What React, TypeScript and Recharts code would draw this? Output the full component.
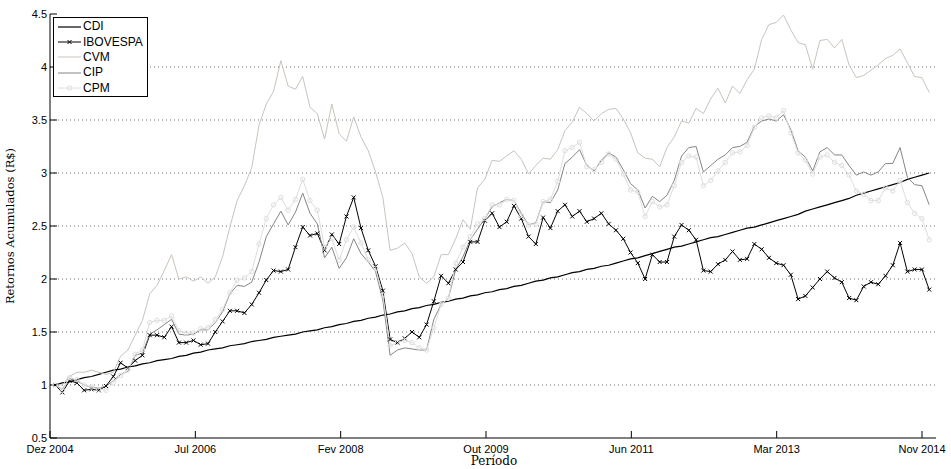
import React from "react";
import { CartesianGrid, Legend, Line, LineChart, XAxis, YAxis } from "recharts";

// retornos acumulados mensais, dez/2004 a dez/2014 (121 meses)
const CDI = [
  1.0, 1.02, 1.03, 1.05, 1.07, 1.08, 1.1, 1.12, 1.14, 1.15,
  1.17, 1.18, 1.2, 1.21, 1.23, 1.24, 1.25, 1.27, 1.28, 1.3,
  1.31, 1.33, 1.34, 1.35, 1.37, 1.38, 1.39, 1.41, 1.42, 1.43,
  1.45, 1.46, 1.47, 1.48, 1.5, 1.51, 1.52, 1.54, 1.55, 1.57,
  1.58, 1.6, 1.61, 1.63, 1.64, 1.66, 1.67, 1.69, 1.7, 1.72,
  1.73, 1.75, 1.76, 1.78, 1.79, 1.81, 1.82, 1.84, 1.85, 1.87,
  1.88, 1.9, 1.91, 1.93, 1.94, 1.96, 1.98, 1.99, 2.01, 2.02,
  2.04, 2.06, 2.07, 2.09, 2.1, 2.12, 2.13, 2.15, 2.17, 2.19,
  2.2, 2.22, 2.24, 2.26, 2.28, 2.3, 2.31, 2.33, 2.35, 2.37,
  2.39, 2.4, 2.42, 2.44, 2.46, 2.48, 2.49, 2.51, 2.53, 2.55,
  2.57, 2.59, 2.61, 2.64, 2.66, 2.68, 2.7, 2.72, 2.74, 2.76,
  2.79, 2.81, 2.83, 2.85, 2.87, 2.89, 2.91, 2.94, 2.96, 2.98,
  3.0,
];

const IBOVESPA = [
  1.0, 0.93, 1.04, 1.02, 0.95, 0.96, 0.95, 0.99, 1.08, 1.21,
  1.16, 1.23, 1.28, 1.47, 1.47, 1.45, 1.55, 1.4, 1.4, 1.42,
  1.38, 1.39, 1.5, 1.6, 1.7, 1.7, 1.68, 1.76, 1.87, 1.99,
  2.08, 2.07, 2.09, 2.3, 2.49, 2.41, 2.43, 2.27, 2.42, 2.33,
  2.59, 2.77, 2.48, 2.27, 2.12, 1.89, 1.43, 1.4, 1.44, 1.5,
  1.45, 1.57, 1.79, 2.03, 1.96, 2.09, 2.16, 2.35, 2.35, 2.55,
  2.62, 2.49, 2.54, 2.69, 2.57, 2.4, 2.33, 2.58, 2.48, 2.64,
  2.7, 2.59, 2.64, 2.54, 2.57, 2.62, 2.52, 2.46, 2.38, 2.25,
  2.15, 2.0, 2.23, 2.16, 2.16, 2.4, 2.51, 2.46, 2.37, 2.08,
  2.07, 2.14, 2.18, 2.26, 2.18, 2.19, 2.33, 2.28, 2.2, 2.15,
  2.13, 2.04, 1.81, 1.84, 1.92, 2.0, 2.07, 2.01, 1.97, 1.82,
  1.8, 1.93, 1.97, 1.95, 2.03, 2.13, 2.34, 2.07, 2.09, 2.09,
  1.9,
];

const CVM = [
  1.0, 1.0, 1.08, 1.12, 1.12, 1.14, 1.12, 1.1, 1.12, 1.27,
  1.33, 1.47, 1.61, 1.86, 1.94, 2.08, 2.23, 2.0, 2.02, 1.98,
  2.02, 1.96, 2.02, 2.21, 2.49, 2.74, 2.88, 3.05, 3.45, 3.65,
  3.77, 4.06, 3.82, 3.79, 3.91, 3.62, 3.56, 3.32, 3.65, 3.37,
  3.3, 3.53, 3.34, 3.21, 3.01, 2.77, 2.27, 2.29, 2.34, 2.24,
  2.02, 1.96, 2.02, 2.23, 2.23, 2.38, 2.56, 2.47, 2.86, 2.94,
  3.12, 3.11, 3.16, 3.21, 3.13, 2.99, 3.07, 3.14, 3.13, 3.22,
  3.4, 3.48, 3.62, 3.56, 3.49, 3.56, 3.6, 3.61, 3.51, 3.38,
  3.19, 3.14, 3.13, 3.06, 3.24, 3.34, 3.49, 3.47, 3.61, 3.56,
  3.7, 3.8, 3.66, 3.82, 3.75, 3.88, 3.98, 4.26, 4.4, 4.42,
  4.49, 4.35, 4.23, 4.21, 3.98, 4.25, 4.26, 4.18, 4.26, 4.02,
  3.9, 3.92, 3.97, 4.02, 4.08, 4.11, 4.17, 4.04, 3.91, 3.9,
  3.76,
];

const CIP = [
  1.0, 0.96, 1.06, 1.04, 1.0, 0.98, 0.97, 0.99, 1.04, 1.1,
  1.13, 1.28, 1.3, 1.48, 1.52, 1.57, 1.62, 1.48, 1.47, 1.48,
  1.52, 1.52, 1.59, 1.69, 1.86, 1.94, 1.93, 1.97, 2.16, 2.4,
  2.52, 2.64, 2.51, 2.63, 2.81, 2.62, 2.52, 2.2, 2.3, 2.1,
  2.2, 2.38, 2.24, 2.16, 2.07, 1.8, 1.28, 1.33, 1.35, 1.34,
  1.33, 1.33, 1.62, 1.76, 1.82, 2.09, 2.21, 2.37, 2.47, 2.57,
  2.68, 2.72, 2.75, 2.74, 2.62, 2.51, 2.53, 2.73, 2.72, 2.84,
  3.09, 3.15, 3.22, 3.07, 3.02, 3.12, 3.19, 3.15, 3.03, 2.9,
  2.84, 2.67, 2.78, 2.73, 2.79, 2.93, 3.16, 3.24, 3.25, 3.01,
  3.07, 3.13, 3.17, 3.24, 3.25, 3.29, 3.44, 3.49, 3.51, 3.49,
  3.55, 3.41, 3.21, 3.15, 3.02, 3.2, 3.24, 3.17, 3.17, 3.07,
  2.98, 3.01, 2.98, 3.01, 3.09, 3.09, 3.24, 2.96, 2.89, 2.88,
  2.7,
];

const CPM = [
  1.0, 0.95, 1.07, 1.05, 1.0, 0.98, 0.96, 0.95, 1.02, 1.09,
  1.14, 1.29, 1.33, 1.59, 1.61, 1.61, 1.65, 1.51, 1.49, 1.49,
  1.53, 1.54, 1.62, 1.71, 1.87, 1.99, 2.01, 2.07, 2.33, 2.57,
  2.7, 2.77, 2.65, 2.75, 2.94, 2.74, 2.65, 2.3, 2.38, 2.18,
  2.37, 2.49, 2.34, 2.18, 2.1, 1.85, 1.37, 1.4, 1.42, 1.4,
  1.35, 1.33, 1.54, 1.76, 1.82, 2.15, 2.3, 2.4, 2.52, 2.57,
  2.7, 2.7, 2.75, 2.74, 2.6, 2.51, 2.52, 2.73, 2.75, 2.92,
  3.21, 3.24, 3.29, 3.06, 3.03, 3.1, 3.18, 3.13, 2.99, 2.84,
  2.82, 2.59, 2.73, 2.68, 2.7, 2.88, 3.1, 3.16, 3.15, 2.88,
  2.93, 3.02, 3.1, 3.19, 3.2, 3.26, 3.43, 3.52, 3.54, 3.52,
  3.59, 3.38, 3.19, 3.12, 2.99, 3.15, 3.17, 3.1, 3.07, 2.98,
  2.83, 2.8, 2.74, 2.74, 2.86, 2.83, 2.93, 2.72, 2.62, 2.57,
  2.37,
];

const X_TICKS = [-0.69, 19.26, 39.21, 59.16, 79.11, 99.06, 119.01];
const X_LABELS = ["Dez 2004", "Jul 2006", "Fev 2008", "Out 2009", "Jun 2011", "Mar 2013", "Nov 2014"];
const Y_TICKS = [0.5, 1, 1.5, 2, 2.5, 3, 3.5, 4, 4.5];
const GRID_TICKS = [1, 1.5, 2, 2.5, 3, 3.5, 4];

const SERIES = [
  { key: "CDI", values: CDI, color: "#000000", width: 1.2, marker: "none" },
  { key: "IBOVESPA", values: IBOVESPA, color: "#000000", width: 1, marker: "x" },
  { key: "CVM", values: CVM, color: "#c9c3bc", width: 1, marker: "none" },
  { key: "CIP", values: CIP, color: "#858585", width: 1, marker: "none" },
  { key: "CPM", values: CPM, color: "#dedede", width: 1, marker: "o" },
];

const rows = CDI.map((_, i) => {
  const row: Record<string, number> = { mes: i };
  SERIES.forEach((s) => {
    row[s.key] = s.values[i];
  });
  return row;
});

const SANS = "Liberation Sans, Arial, Helvetica, sans-serif";
const SERIF = "DejaVu Serif, serif";

function markerShape(kind: string, cx: number, cy: number, color: string, key?: string) {
  if (kind === "x") {
    const s = 2;
    return (
      <path
        key={key}
        d={`M${cx - s} ${cy - s}L${cx + s} ${cy + s}M${cx - s} ${cy + s}L${cx + s} ${cy - s}`}
        stroke={color}
        strokeWidth={1}
        fill="none"
      />
    );
  }
  if (kind === "o") {
    return <circle key={key} cx={cx} cy={cy} r={2.2} fill="none" stroke={color} strokeWidth={1} />;
  }
  return <g key={key} />;
}

function dotFor(kind: string, color: string) {
  if (kind === "none") return false;
  return (p: any) => {
    const key = `${kind}-${p.index}`;
    if (p.cx == null || p.cy == null) return <g key={key} />;
    return markerShape(kind, p.cx, p.cy, color, key);
  };
}

function LegendBox() {
  return (
    <div
      style={{
        width: 93,
        border: "1px solid #000",
        background: "#fff",
        padding: "1px 0 0 0",
        fontFamily: SANS,
        fontSize: 12,
        color: "#000",
      }}
    >
      {SERIES.map((s) => (
        <div key={s.key} style={{ display: "flex", alignItems: "center", height: 15.4 }}>
          <svg width={29} height={10} style={{ display: "block" }}>
            <line x1={4} x2={27} y1={5} y2={5} stroke={s.color} strokeWidth={s.width} />
            {markerShape(s.marker, 15.5, 5, s.color)}
          </svg>
          <span style={{ lineHeight: "15px" }}>{s.key}</span>
        </div>
      ))}
    </div>
  );
}

export default function App() {
  return (
    <div style={{ position: "absolute", left: 0, top: 0, width: 951, height: 469, background: "#fff" }}>
      <LineChart width={951} height={469} data={rows} margin={{ top: 14, right: 15, bottom: 10, left: 10 }}>
        <CartesianGrid
          vertical={false}
          stroke="#6e6e6e"
          strokeWidth={1}
          strokeDasharray="1 3"
          horizontalValues={GRID_TICKS}
        />
        <XAxis
          dataKey="mes"
          type="number"
          domain={[-0.69, 120.93]}
          allowDataOverflow
          ticks={X_TICKS}
          interval={0}
          tickFormatter={(_v: number, i: number) => X_LABELS[i]}
          height={21}
          tickSize={-7}
          tickMargin={14}
          axisLine={{ stroke: "#000" }}
          tickLine={{ stroke: "#000" }}
          tick={{ fontSize: 11, fill: "#000", fontFamily: SANS }}
        />
        <XAxis
          xAxisId="top"
          orientation="top"
          dataKey="mes"
          type="number"
          domain={[-0.69, 120.93]}
          allowDataOverflow
          ticks={X_TICKS}
          interval={0}
          height={0}
          tickSize={-7}
          tick={false}
          axisLine={{ stroke: "#000" }}
          tickLine={{ stroke: "#000" }}
        />
        <YAxis
          type="number"
          domain={[0.5, 4.5]}
          allowDataOverflow
          ticks={Y_TICKS}
          interval={0}
          width={40}
          tickSize={-7}
          tickMargin={10}
          axisLine={{ stroke: "#000" }}
          tickLine={{ stroke: "#000" }}
          tick={{ fontSize: 11, fill: "#000", fontFamily: SANS }}
        />
        <YAxis
          yAxisId="right"
          orientation="right"
          type="number"
          domain={[0.5, 4.5]}
          allowDataOverflow
          ticks={Y_TICKS}
          interval={0}
          width={0}
          tickSize={-7}
          tick={false}
          axisLine={{ stroke: "#000" }}
          tickLine={{ stroke: "#000" }}
        />
        <Legend
          layout="vertical"
          align="center"
          verticalAlign="middle"
          width={95}
          height={80}
          wrapperStyle={{ left: 53, top: 17 }}
          content={() => <LegendBox />}
        />
        {SERIES.map((s) => (
          <Line
            key={s.key}
            type="linear"
            dataKey={s.key}
            name={s.key}
            stroke={s.color}
            strokeWidth={s.width}
            dot={dotFor(s.marker, s.color)}
            activeDot={false}
            isAnimationActive={false}
          />
        ))}
      </LineChart>
      <svg width={951} height={469} style={{ position: "absolute", left: 0, top: 0, pointerEvents: "none" }}>
        <text x={494} y={465} textAnchor="middle" fontFamily={SERIF} fontSize={12} fill="#000">
          Período
        </text>
        <text
          transform="translate(14,226) rotate(-90)"
          textAnchor="middle"
          fontFamily={SERIF}
          fontSize={11.5}
          fill="#000"
        >
          Retornos Acumulados (R$)
        </text>
      </svg>
    </div>
  );
}
